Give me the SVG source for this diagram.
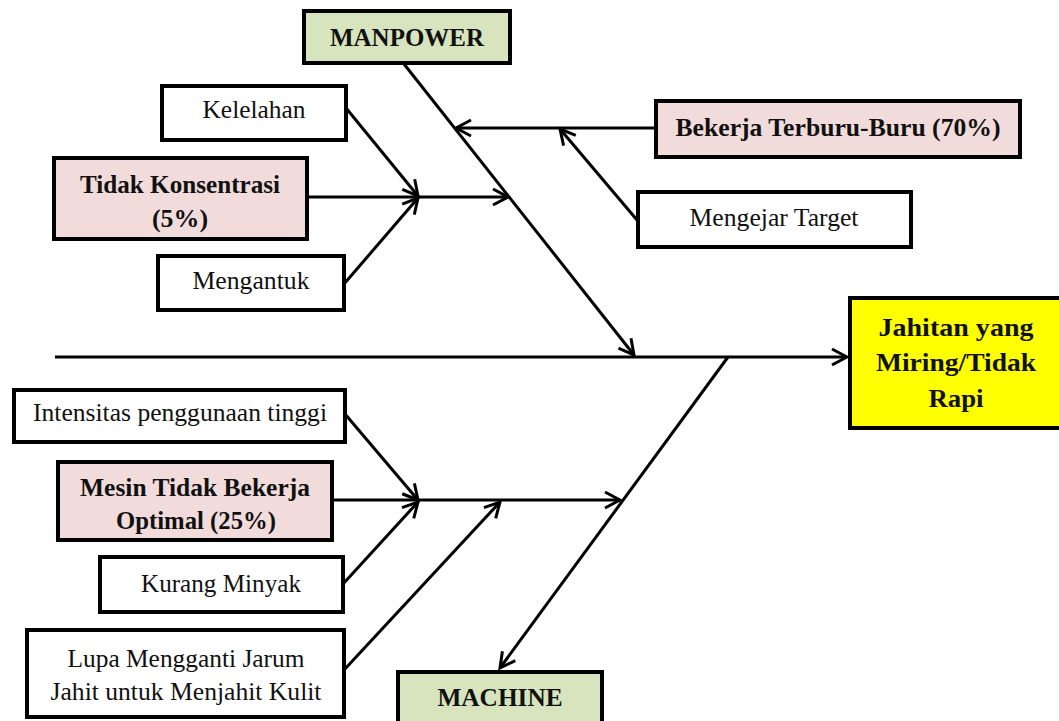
<svg xmlns="http://www.w3.org/2000/svg" width="1059" height="721" viewBox="0 0 1059 721">
  <style>
    .box { stroke: #000; stroke-width: 4; }
    .plain { fill: #fff; }
    .cat { fill: #D7E4BD; }
    .key { fill: #F2DCDB; }
    .effect { fill: #FFFF00; }
    text { font-family: "Liberation Serif", "Times New Roman", serif; font-size: 25px; fill: #111; text-anchor: middle; }
    .b { font-weight: bold; }
    .line { stroke: #000; stroke-width: 3; fill: none; marker-end: url(#arr); }
  </style>
  <defs>
    <marker id="arr" markerUnits="userSpaceOnUse" markerWidth="20" markerHeight="20" viewBox="0 0 20 20" refX="17" refY="10" orient="auto">
      <path d="M2,2 L17,10 L2,18" fill="none" stroke="#000" stroke-width="3"/>
    </marker>
  </defs>
  <rect width="1059" height="721" fill="#fff"/>

  <!-- connectors -->
  <g id="connectors">
    <path class="line" d="M55,357 L847,357"/>
    <path class="line" d="M404,64 L634,355"/>
    <path class="line" d="M655,128 L456,128"/>
    <path class="line" d="M637,220 L560,129"/>
    <path class="line" d="M346,108 L418,196"/>
    <path class="line" d="M307,197 L508,197"/>
    <path class="line" d="M344,284 L418,198"/>
    <path class="line" d="M728,357 L500,668"/>
    <path class="line" d="M345,414 L418,500"/>
    <path class="line" d="M332,500 L620,500"/>
    <path class="line" d="M343,584 L418,502"/>
    <path class="line" d="M344,670 L500,502"/>
  </g>

  <!-- category heads -->
  <g id="manpower">
    <rect class="box cat" x="304" y="11" width="206" height="52"/>
    <text class="b" x="407" y="46" textLength="154" lengthAdjust="spacingAndGlyphs">MANPOWER</text>
  </g>
  <g id="machine">
    <rect class="box cat" x="398" y="672" width="204" height="55"/>
    <text class="b" x="500" y="706" textLength="125" lengthAdjust="spacingAndGlyphs">MACHINE</text>
  </g>

  <!-- manpower causes -->
  <g id="kelelahan">
    <rect class="box plain" x="162" y="86" width="184" height="54"/>
    <text x="254" y="118" textLength="103" lengthAdjust="spacingAndGlyphs">Kelelahan</text>
  </g>
  <g id="tidak-konsentrasi">
    <rect class="box key" x="54" y="158" width="253" height="81"/>
    <text class="b" x="180" y="193" textLength="200" lengthAdjust="spacingAndGlyphs">Tidak Konsentrasi</text>
    <text class="b" x="180" y="227" textLength="56" lengthAdjust="spacingAndGlyphs">(5%)</text>
  </g>
  <g id="mengantuk">
    <rect class="box plain" x="158" y="256" width="186" height="54"/>
    <text x="251" y="289" textLength="117" lengthAdjust="spacingAndGlyphs">Mengantuk</text>
  </g>
  <g id="bekerja-terburu-buru">
    <rect class="box key" x="656" y="101" width="364" height="56"/>
    <text class="b" x="838" y="136" textLength="325" lengthAdjust="spacingAndGlyphs">Bekerja Terburu-Buru (70%)</text>
  </g>
  <g id="mengejar-target">
    <rect class="box plain" x="638" y="192" width="273" height="55"/>
    <text x="774" y="226" textLength="169" lengthAdjust="spacingAndGlyphs">Mengejar Target</text>
  </g>

  <!-- effect -->
  <g id="effect">
    <rect class="box effect" x="850" y="298" width="215" height="130"/>
    <text class="b" x="956" y="336" textLength="155" lengthAdjust="spacingAndGlyphs">Jahitan yang</text>
    <text class="b" x="956" y="371" textLength="160" lengthAdjust="spacingAndGlyphs">Miring/Tidak</text>
    <text class="b" x="956" y="407" textLength="55" lengthAdjust="spacingAndGlyphs">Rapi</text>
  </g>

  <!-- machine causes -->
  <g id="intensitas">
    <rect class="box plain" x="14" y="390" width="331" height="52"/>
    <text x="180" y="421" textLength="294" lengthAdjust="spacingAndGlyphs">Intensitas penggunaan tinggi</text>
  </g>
  <g id="mesin-tidak-optimal">
    <rect class="box key" x="58" y="462" width="274" height="78"/>
    <text class="b" x="195" y="496" textLength="230" lengthAdjust="spacingAndGlyphs">Mesin Tidak Bekerja</text>
    <text class="b" x="196" y="529" textLength="160" lengthAdjust="spacingAndGlyphs">Optimal (25%)</text>
  </g>
  <g id="kurang-minyak">
    <rect class="box plain" x="100" y="557" width="243" height="55"/>
    <text x="221" y="592" textLength="160" lengthAdjust="spacingAndGlyphs">Kurang Minyak</text>
  </g>
  <g id="lupa-jarum">
    <rect class="box plain" x="27" y="630" width="317" height="87"/>
    <text x="186" y="667" textLength="237" lengthAdjust="spacingAndGlyphs">Lupa Mengganti Jarum</text>
    <text x="186" y="700" textLength="271" lengthAdjust="spacingAndGlyphs">Jahit untuk Menjahit Kulit</text>
  </g>
</svg>
